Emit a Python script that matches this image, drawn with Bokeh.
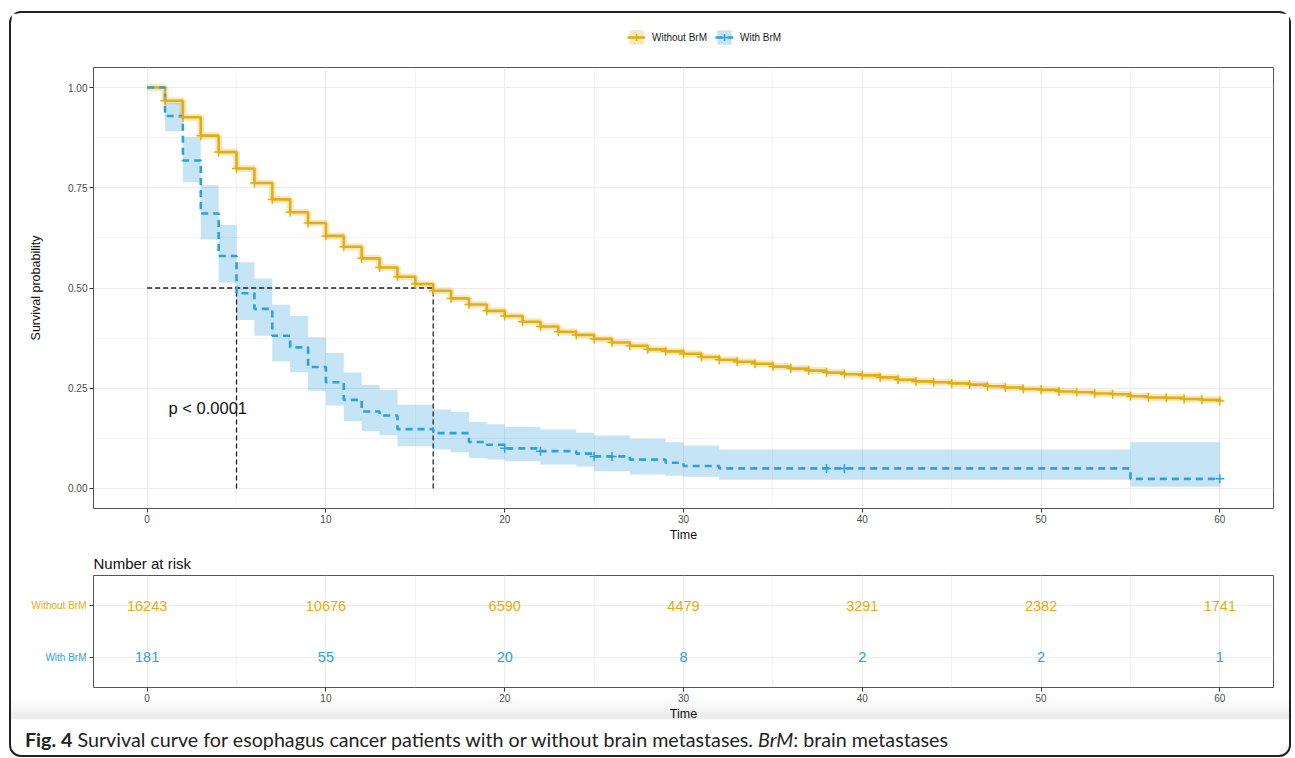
from bokeh.plotting import figure
from bokeh.models import Range1d, FixedTicker, Legend, LegendItem, Div
from bokeh.layouts import column, row
from bokeh.embed import file_html
from bokeh.resources import INLINE
from bokeh.core.properties import value

ORANGE = "#E3AD14"
BLUE = "#2E9FDF"
FONT = "Liberation Sans"

# ---------------- data ----------------
group_labels = ["Without BrM", "With BrM"]

orange_time = [0, 1, 2, 3, 4, 5, 6, 7, 8, 9, 10, 11, 12, 13, 14, 15, 16, 17, 18, 19, 20,
               21, 22, 23, 24, 25, 26, 27, 28, 29, 30, 31, 32, 33, 34, 35, 36, 37, 38, 39, 40,
               41, 42, 43, 44, 45, 46, 47, 48, 49, 50, 51, 52, 53, 54, 55, 56, 57, 58, 59, 60]
orange_surv = [1.000, 0.967, 0.926, 0.880, 0.839, 0.798, 0.762, 0.721, 0.689, 0.662, 0.630,
               0.603, 0.574, 0.551, 0.528, 0.510, 0.493, 0.474, 0.459, 0.443, 0.430,
               0.416, 0.404, 0.391, 0.383, 0.373, 0.364, 0.356, 0.347, 0.342, 0.336,
               0.328, 0.321, 0.316, 0.311, 0.304, 0.299, 0.294, 0.289, 0.285, 0.282,
               0.277, 0.271, 0.267, 0.265, 0.262, 0.259, 0.255, 0.252, 0.248, 0.246,
               0.242, 0.240, 0.237, 0.235, 0.230, 0.227, 0.226, 0.223, 0.221, 0.218]

blue_time = [0, 1, 2, 3, 4, 5, 6, 7, 8, 9, 10, 11, 12, 13, 14, 16, 17, 18, 19, 20,
             22, 24, 25, 27, 29, 30, 32, 55, 60]
blue_surv = [1.000, 0.929, 0.818, 0.686, 0.580, 0.487, 0.448, 0.381, 0.352, 0.303,
             0.265, 0.221, 0.192, 0.182, 0.148, 0.138, 0.138, 0.116, 0.109, 0.100,
             0.093, 0.087, 0.080, 0.072, 0.064, 0.056, 0.050, 0.024, 0.024]
blue_lo = [1.000, 0.891, 0.764, 0.621, 0.513, 0.420, 0.381, 0.317, 0.290, 0.244,
           0.207, 0.168, 0.143, 0.133, 0.105, 0.097, 0.090, 0.076, 0.072, 0.068,
           0.060, 0.055, 0.043, 0.035, 0.032, 0.029, 0.022, 0.004, 0.004]
blue_hi = [1.000, 0.963, 0.876, 0.756, 0.657, 0.564, 0.524, 0.458, 0.430, 0.377,
           0.338, 0.289, 0.258, 0.246, 0.209, 0.197, 0.191, 0.166, 0.160, 0.153,
           0.147, 0.139, 0.132, 0.124, 0.115, 0.107, 0.097, 0.115, 0.115]
blue_censor_time = [20, 22, 25, 26, 38, 39, 60]

median_time = [16, 5]          # Without BrM, With BrM
median_level = 0.5
pval_text = "p < 0.0001"
pval_pos = (1.2, 0.2)

risk_time = [0, 10, 20, 30, 40, 50, 60]
risk_without = [16243, 10676, 6590, 4479, 3291, 2382, 1741]
risk_with = [181, 55, 20, 8, 2, 2, 1]
risk_rows = [2, 1]             # row positions: Without BrM, With BrM

x_ticks = [0, 10, 20, 30, 40, 50, 60]
x_minor = [5, 15, 25, 35, 45, 55]
y_ticks = [0, 0.25, 0.5, 0.75, 1.0]
y_minor = [0.125, 0.375, 0.625, 0.875]


def surv_at(times, surv, t):
    idx = max(i for i, tt in enumerate(times) if tt <= t)
    return surv[idx]


blue_censor_surv = [surv_at(blue_time, blue_surv, t) for t in blue_censor_time]


def style_axes(fig):
    fig.outline_line_color = "#555555"
    fig.outline_line_width = 1
    for ax in fig.axis:
        ax.axis_line_color = None
        ax.major_tick_line_color = "#333333"
        ax.major_tick_out = 4
        ax.major_tick_in = 0
        ax.minor_tick_line_color = None
        ax.major_label_text_font = FONT
        ax.major_label_text_font_size = "10px"
        ax.major_label_text_color = "#4D4D4D"
        ax.major_label_standoff = 2
        ax.axis_label_text_font = FONT
        ax.axis_label_text_font_size = "12.5px"
        ax.axis_label_text_font_style = "normal"
        ax.axis_label_text_color = "#111111"
    fig.grid.grid_line_color = "#EBEBEB"
    fig.grid.grid_line_width = 1


def draw_curves(fig):
    """Bands; returns the renderers used for the legend keys."""
    b_band = fig.varea_step(x=blue_time, y1=blue_lo, y2=blue_hi, step_mode="after",
                            fill_color=BLUE, fill_alpha=0.28)
    fig.step(x=orange_time, y=orange_surv, mode="after", line_color=ORANGE,
             line_width=7, line_alpha=0.28)
    o_key = fig.varea_step(x=orange_time, y1=orange_surv, y2=orange_surv, step_mode="after",
                           fill_color=ORANGE, fill_alpha=0.28)
    return b_band, o_key


def draw_lines(fig):
    o_line = fig.step(x=orange_time, y=orange_surv, mode="after", line_color=ORANGE,
                      line_width=2.6)
    b_line = fig.step(x=blue_time, y=blue_surv, mode="after", line_color=BLUE,
                      line_width=2.6, line_dash="7 5")
    o_cross = fig.scatter(x=orange_time[1:], y=orange_surv[1:], marker="cross", size=9,
                          line_color=ORANGE, line_width=1.5)
    b_cross = fig.scatter(x=blue_censor_time, y=blue_censor_surv, marker="cross", size=9,
                          line_color=BLUE, line_width=1.5)
    return o_line, b_line, o_cross, b_cross


W = 1278

# ---------------- legend header (keys only; curves lie outside its view) ----------------
head = figure(width=W, height=54, x_range=Range1d(-3, 63), y_range=Range1d(5, 6),
              output_backend="svg", toolbar_location=None,
              x_axis_location=None, y_axis_location=None,
              min_border_left=0, min_border_right=0, min_border_top=0, min_border_bottom=0)
head.outline_line_color = None
head.grid.grid_line_color = None
hb_band, ho_key = draw_curves(head)
ho_line, hb_line, ho_cross, hb_cross = draw_lines(head)
legend = Legend(items=[LegendItem(label=group_labels[0], renderers=[ho_key, ho_line, ho_cross]),
                       LegendItem(label=group_labels[1], renderers=[hb_band, hb_line, hb_cross])],
                location=(534, 21), orientation="horizontal",
                glyph_width=18, glyph_height=18, label_height=18, label_standoff=7,
                spacing=8, padding=0, margin=0,
                background_fill_alpha=0, border_line_alpha=0,
                label_text_font=FONT, label_text_font_size="10px",
                label_text_color="#222222")
head.add_layout(legend)

# ---------------- main survival plot ----------------
p = figure(width=W, height=478, x_range=Range1d(-3, 63), y_range=Range1d(-0.05, 1.05),
           output_backend="svg", toolbar_location=None,
           min_border_left=82, min_border_right=16, min_border_top=0, min_border_bottom=37)
p.xaxis.ticker = FixedTicker(ticks=x_ticks, minor_ticks=x_minor)
p.yaxis.ticker = FixedTicker(ticks=y_ticks, minor_ticks=y_minor)
p.yaxis.major_label_overrides = {t: f"{t:.2f}" for t in y_ticks}
p.xaxis.axis_label = "Time"
p.yaxis.axis_label = "Survival probability"
style_axes(p)
p.xaxis.axis_label_standoff = 2
p.yaxis.axis_label_standoff = 22
p.xgrid.minor_grid_line_color = "#EBEBEB"
p.ygrid.minor_grid_line_color = "#EBEBEB"
p.xgrid.minor_grid_line_width = 0.6
p.ygrid.minor_grid_line_width = 0.6

draw_curves(p)
# median lines
p.segment(x0=[0], y0=[median_level], x1=[max(median_time)], y1=[median_level],
          line_color="#222222", line_width=1.3, line_dash="5 3")
p.segment(x0=median_time, y0=[0] * len(median_time), x1=median_time,
          y1=[median_level] * len(median_time),
          line_color="#222222", line_width=1.3, line_dash="5 3")
draw_lines(p)

p.text(x=[pval_pos[0]], y=[pval_pos[1]], text=[pval_text], text_font=value(FONT),
       text_font_size="16.5px", text_baseline="middle", text_align="left",
       text_color="#111111")

# ---------------- risk table ----------------
risk_y = Range1d(0.42, 2.58)

lab = figure(width=75, height=179, x_range=Range1d(0, 1), y_range=risk_y,
             output_backend="svg", toolbar_location=None,
             x_axis_location=None, y_axis_location=None,
             min_border_left=0, min_border_right=0, min_border_top=30, min_border_bottom=37)
lab.outline_line_color = None
lab.grid.grid_line_color = None
lab.border_fill_alpha = 0
lab.background_fill_alpha = 0
lab.text(x=[1, 1], y=risk_rows, text=group_labels, text_color=[ORANGE, BLUE],
         text_font=value(FONT), text_font_size="10px", text_align="right",
         text_baseline="middle")

r = figure(width=W - 75, height=179, x_range=Range1d(-3, 63), y_range=risk_y,
           output_backend="svg", toolbar_location=None, title="Number at risk",
           min_border_left=7, min_border_right=16, min_border_top=30, min_border_bottom=37)
r.border_fill_alpha = 0
r.xaxis.ticker = FixedTicker(ticks=x_ticks, minor_ticks=x_minor)
r.yaxis.ticker = FixedTicker(ticks=risk_rows)
r.yaxis.major_label_overrides = {v: "" for v in risk_rows}
r.xaxis.axis_label = "Time"
style_axes(r)
r.yaxis.major_label_standoff = 0
r.xaxis.axis_label_standoff = 2
r.xgrid.minor_grid_line_color = "#EBEBEB"
r.xgrid.minor_grid_line_width = 0.6
r.title.text_font = FONT
r.title.text_font_size = "15px"
r.title.text_font_style = "normal"
r.title.text_color = "#111111"
r.title.align = "left"
r.title.standoff = 8

r.text(x=risk_time, y=[risk_rows[0]] * len(risk_time), text=[str(v) for v in risk_without],
       text_font=value(FONT), text_font_size="14.5px", text_color=ORANGE,
       text_align="center", text_baseline="middle")
r.text(x=risk_time, y=[risk_rows[1]] * len(risk_time), text=[str(v) for v in risk_with],
       text_font=value(FONT), text_font_size="14.5px", text_color=BLUE,
       text_align="center", text_baseline="middle")

risk_row = row(lab, r, spacing=0,
               styles={"background": "linear-gradient(to bottom, #ffffff 0px, #ffffff 152px, "
                                     "#f3f3f3 166px, #e9e9e9 173px, #ffffff 175px)"})

# ---------------- caption ----------------
cap = Div(text='<b>Fig. 4</b> Survival curve for esophagus cancer patients with or without '
               'brain metastases. <i>BrM</i>: brain metastases',
          width=W, height=31, margin=(0, 0, 0, 0),
          styles={"font-family": "Lato", "font-size": "19.7px", "padding-left": "14px",
                  "padding-top": "2px", "color": "#222222", "white-space": "nowrap",
                  "box-sizing": "border-box"})

layout = column(head, p, risk_row, cap, spacing=0,
                styles={"border": "2px solid #222222", "border-radius": "12px",
                        "margin": "11px 0 0 9px", "background": "white"})

open("out.html", "w").write(file_html(layout, INLINE))
